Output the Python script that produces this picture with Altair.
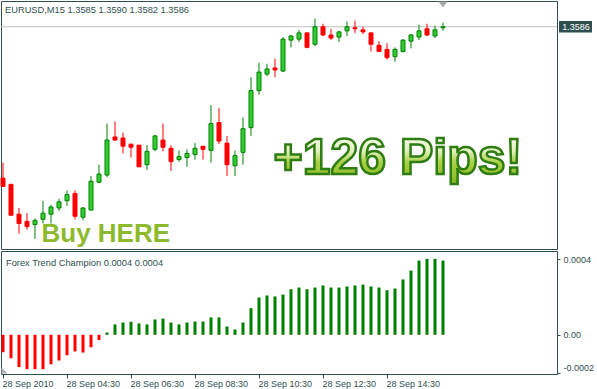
import altair as alt
import pandas as pd

# ---------------- data ----------------
bar_index = list(range(56))
opens = [1.3439, 1.3433, 1.3404, 1.3397, 1.3394, 1.3399, 1.3404, 1.3410, 1.3417, 1.3424,
         1.3401, 1.3408, 1.3435, 1.3442, 1.3479, 1.3478, 1.3472, 1.3471, 1.3452, 1.3467,
         1.3476, 1.3468, 1.3457, 1.3459, 1.3462, 1.3470, 1.3466, 1.3493, 1.3473, 1.3451,
         1.3464, 1.3488, 1.3524, 1.3540, 1.3546, 1.3543, 1.3573, 1.3574, 1.3580, 1.3569,
         1.3586, 1.3578, 1.3576, 1.3582, 1.3585, 1.3583, 1.3580, 1.3568, 1.3564, 1.3557,
         1.3562, 1.3572, 1.3576, 1.3584, 1.3577, 1.3585]
highs = [1.3454, 1.3433, 1.3410, 1.3405, 1.3400, 1.3417, 1.3413, 1.3419, 1.3427, 1.3427,
         1.3411, 1.3441, 1.3452, 1.3492, 1.3494, 1.3483, 1.3472, 1.3471, 1.3471, 1.3481,
         1.3492, 1.3471, 1.3466, 1.3467, 1.3473, 1.3470, 1.3510, 1.3507, 1.3480, 1.3466,
         1.3498, 1.3537, 1.3551, 1.3550, 1.3555, 1.3576, 1.3578, 1.3583, 1.3581, 1.3594,
         1.3589, 1.3584, 1.3582, 1.3591, 1.3592, 1.3586, 1.3581, 1.3572, 1.3570, 1.3566,
         1.3574, 1.3579, 1.3588, 1.3589, 1.3587, 1.3590]
lows = [1.3431, 1.3403, 1.3385, 1.3389, 1.3380, 1.3395, 1.3395, 1.3407, 1.3412, 1.3399,
        1.3398, 1.3408, 1.3434, 1.3440, 1.3475, 1.3463, 1.3459, 1.3450, 1.3447, 1.3465,
        1.3465, 1.3446, 1.3455, 1.3450, 1.3457, 1.3457, 1.3454, 1.3472, 1.3441, 1.3441,
        1.3452, 1.3480, 1.3520, 1.3538, 1.3537, 1.3542, 1.3566, 1.3571, 1.3565, 1.3567,
        1.3577, 1.3573, 1.3571, 1.3577, 1.3580, 1.3579, 1.3562, 1.3562, 1.3554, 1.3552,
        1.3561, 1.3565, 1.3573, 1.3577, 1.3575, 1.3582]
closes = [1.3431, 1.3403, 1.3395, 1.3392, 1.3398, 1.3405, 1.3411, 1.3416, 1.3423, 1.3402,
          1.3410, 1.3436, 1.3443, 1.3476, 1.3476, 1.3470, 1.3469, 1.3450, 1.3465, 1.3480,
          1.3469, 1.3455, 1.3460, 1.3463, 1.3468, 1.3467, 1.3492, 1.3475, 1.3452, 1.3461,
          1.3487, 1.3524, 1.3542, 1.3545, 1.3544, 1.3574, 1.3577, 1.3580, 1.3566, 1.3586,
          1.3578, 1.3575, 1.3581, 1.3586, 1.3584, 1.3581, 1.3569, 1.3562, 1.3556, 1.3564,
          1.3573, 1.3578, 1.3582, 1.3578, 1.3583, 1.3586]
trend_values = [-0.000092, -0.000124, -0.000171, -0.000182, -0.000182, -0.000182, -0.000156,
                -0.000136, -0.000108, -0.000088, -0.000094, -0.000066, -0.000028, 0.000012,
                0.000055, 0.000065, 0.000069, 0.000060, 0.000055, 0.000081, 0.000086,
                0.000065, 0.000055, 0.000065, 0.000070, 0.000070, 0.000092, 0.000092,
                0.000044, 0.000028, 0.000065, 0.000141, 0.000197, 0.000208, 0.000203,
                0.000213, 0.000241, 0.000250, 0.000241, 0.000250, 0.000261, 0.000250,
                0.000250, 0.000256, 0.000261, 0.000266, 0.000256, 0.000250, 0.000236,
                0.000245, 0.000293, 0.000340, 0.000393, 0.000402, 0.000402, 0.000393]

time_tick_bars = [0, 8, 16, 24, 32, 40, 48]
time_tick_labels = ["28 Sep 2010", "28 Sep 04:30", "28 Sep 06:30", "28 Sep 08:30",
                    "28 Sep 10:30", "28 Sep 12:30", "28 Sep 14:30"]
price_ticks = [1.3375, 1.3410, 1.3445, 1.3480, 1.3515, 1.3550]
ind_ticks = [-0.0002, 0.0, 0.0004]
ind_tick_labels = ["-0.0002", "0.00", "0.0004"]
last_price = 1.3586
header_text = "EURUSD,M15  1.3585 1.3590 1.3582 1.3586"
ind_header_text = "Forex Trend Champion 0.0004 0.0004"
buy_text = "Buy HERE"
pips_text = "+126 Pips!"

# ---------------- tables ----------------
candles = pd.DataFrame({"i": bar_index, "open": opens, "high": highs, "low": lows, "close": closes})
candles["dir"] = ["up" if c >= o else "down" for o, c in zip(opens, closes)]
ind = pd.DataFrame({"i": bar_index, "v": trend_values})
ind["dir"] = ["up" if v >= 0 else "down" for v in trend_values]

FG = "#2f4f4f"
FONT = "Liberation Sans"
W = 556
xs = alt.Scale(domain=[-0.25, 69.25], nice=False, zero=False, padding=0)
ys = alt.Scale(domain=[1.33702, 1.36110], nice=False, zero=False, padding=0)
yl = alt.Scale(domain=[-0.0002074, 0.0004434], nice=False, zero=False, padding=0)

dir_dom = ["up", "down"]

wicks = alt.Chart(candles).mark_rule(strokeWidth=1).encode(
    x=alt.X("i:Q", scale=xs, axis=None),
    y=alt.Y("low:Q", scale=ys, axis=alt.Axis(
        orient="right", values=price_ticks, format=".4f", title=None, domain=False,
        grid=False, tickSize=3, tickColor=FG, labelColor=FG, labelFontSize=9,
        labelFont=FONT, labelPadding=3)),
    y2="high:Q",
    color=alt.Color("dir:N", scale=alt.Scale(domain=dir_dom, range=["#008000", "#ff0000"]), legend=None),
)

bodies = alt.Chart(candles).mark_bar(size=4, strokeWidth=1).encode(
    x=alt.X("i:Q", scale=xs, axis=None),
    y=alt.Y("open:Q", scale=ys, axis=None),
    y2="close:Q",
    fill=alt.Fill("dir:N", scale=alt.Scale(domain=dir_dom, range=["#32cd32", "#ff0000"]), legend=None),
    stroke=alt.Stroke("dir:N", scale=alt.Scale(domain=dir_dom, range=["#008000", "#ff0000"]), legend=None),
)

price_df = pd.DataFrame({"p": [last_price]})
price_line = alt.Chart(price_df).mark_rule(color="#c0c0c0", strokeWidth=1).encode(
    y=alt.Y("p:Q", scale=ys, axis=None)
)
price_box = alt.Chart(price_df).mark_point(
    shape="M-1.6,-0.55H1.6V0.55H-1.6Z", size=424, filled=True, fill=FG, opacity=1, strokeWidth=0
).encode(x=alt.value(574.5), y=alt.Y("p:Q", scale=ys, axis=None))
price_label = alt.Chart(price_df).mark_text(
    color="white", fontSize=9, font=FONT, align="center", baseline="middle"
).encode(x=alt.value(575), y=alt.Y("p:Q", scale=ys, axis=None), text=alt.Text("p:Q", format=".4f"))

header = alt.Chart(pd.DataFrame({"t": [header_text]})).mark_text(
    align="left", baseline="alphabetic", fontSize=9.3, font=FONT, color=FG
).encode(x=alt.value(4), y=alt.value(12), text="t:N")

shift_mark = alt.Chart(pd.DataFrame({"i": [bar_index[-1]]})).mark_point(
    shape="M-1,-0.67L1,-0.67L0,0.67Z", filled=True, color="#a8a8a8", size=81, opacity=1, strokeWidth=0
).encode(x=alt.X("i:Q", scale=xs, axis=None), y=alt.value(3.5))

buy = alt.Chart(pd.DataFrame({"t": [buy_text]})).mark_text(
    align="left", baseline="alphabetic", fontSize=26, fontWeight="bold", font=FONT, color="#8db92d"
).encode(x=alt.value(40.5), y=alt.value(240.5), text="t:N")

pips = alt.Chart(pd.DataFrame({"t": [pips_text]})).mark_text(
    align="left", baseline="alphabetic", fontSize=50, fontWeight="bold", font=FONT,
    fill=alt.Gradient(gradient="linear", x1=0, y1=0, x2=0, y2=1, stops=[
        alt.GradientStop(color="#ffffff", offset=0),
        alt.GradientStop(color="#e2f0bd", offset=0.4),
        alt.GradientStop(color="#a8d044", offset=0.6),
        alt.GradientStop(color="#86b81e", offset=1),
    ]),
    stroke="#2e7d12", strokeWidth=2.5,
).encode(x=alt.value(272.5), y=alt.value(172.8), text="t:N")

top = alt.layer(price_line, wicks, bodies, header, shift_mark, buy, pips, price_box, price_label).properties(
    width=W, height=248
)

hist = alt.Chart(ind).mark_bar(size=3).encode(
    x=alt.X("i:Q", scale=xs, axis=alt.Axis(
        values=time_tick_bars, title=None, domain=False, grid=False, tickSize=4,
        tickColor=FG, labelColor=FG, labelFontSize=9, labelFont=FONT, labelAlign="left",
        labelOffset=-1, labelPadding=1, labelFlush=False,
        labelExpr=f"{time_tick_labels}[indexof({time_tick_bars}, datum.value)]")),
    y=alt.Y("v:Q", scale=yl, axis=alt.Axis(
        orient="right", values=ind_ticks, title=None, domain=False, grid=False, tickSize=3,
        tickColor=FG, labelColor=FG, labelFontSize=9, labelFont=FONT, labelPadding=3,
        labelFlush=3,
        labelExpr=f"{ind_tick_labels}[indexof({ind_ticks}, datum.value)]")),
    color=alt.Color("dir:N", scale=alt.Scale(domain=dir_dom, range=["#008000", "#ff0000"]), legend=None),
)
ind_header = alt.Chart(pd.DataFrame({"t": [ind_header_text]})).mark_text(
    align="left", baseline="alphabetic", fontSize=9.3, font=FONT, color=FG
).encode(x=alt.value(5), y=alt.value(14.5), text="t:N")
corner_mark = alt.Chart(pd.DataFrame({"t": [ind_header_text]})).mark_point(
    shape="M-1,-1L-1,1L1,1Z", size=36, filled=True, color="#b4b4b4", opacity=1, strokeWidth=0
).encode(x=alt.value(3.5), y=alt.value(119.5))

bottom = alt.layer(hist, ind_header, corner_mark).properties(width=W, height=123)

chart = alt.vconcat(top, bottom, spacing=2, bounds="flush").properties(
    padding={"left": 0, "top": 0, "right": 0, "bottom": 0},
    background="white",
).configure_view(stroke=FG, strokeWidth=1).configure_axis(labelFont=FONT)

chart.save("out.html", embed_options={"renderer": "svg", "actions": False})
